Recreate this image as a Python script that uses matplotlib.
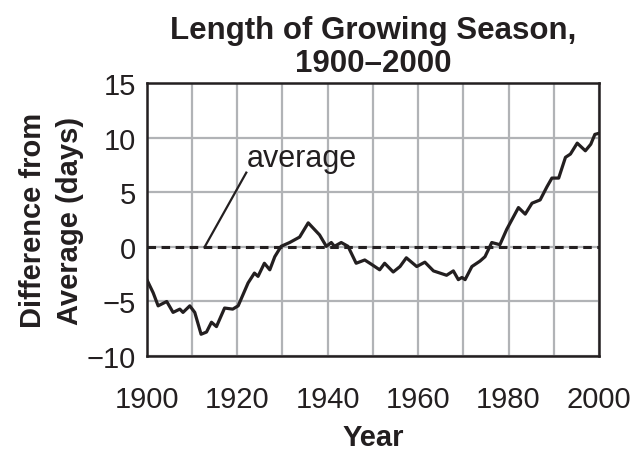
import numpy as np
import matplotlib
matplotlib.use('Agg')
import matplotlib.pyplot as plt

plt.rcParams['font.family'] = ['Liberation Sans', 'DejaVu Sans']

ink = '#231f20'

# growing season length, difference from average (days)
years = [1900, 1901.4, 1902.5, 1904.4, 1905.8, 1907.3, 1908, 1909.5, 1910.6,
         1912, 1913.2, 1914.3, 1915.4, 1917.2, 1919, 1920.2, 1922.4, 1923.8,
         1924.6, 1926, 1927.2, 1928.3, 1929.7, 1931.6, 1933.8, 1935.7, 1938.2,
         1939.7, 1940.8, 1941.5, 1943, 1944.5, 1946.3, 1948.2, 1949.7, 1951.5,
         1952.6, 1954.5, 1956, 1957.4, 1959.7, 1961.5, 1963.4, 1966.3, 1967.8,
         1968.9, 1969.7, 1970.4, 1971.9, 1973.7, 1974.8, 1976.3, 1978.1,
         1979.6, 1982.2, 1983.7, 1985.2, 1987, 1988.5, 1989.6, 1991.1, 1992.6,
         1993.7, 1995.2, 1997, 1998.2, 1999.1, 2000]
diff = [-3.0, -4.2, -5.4, -5.0, -6.0, -5.7, -6.0, -5.4, -6.0,
        -8.0, -7.8, -6.9, -7.3, -5.6, -5.7, -5.4, -3.3, -2.4,
        -2.7, -1.5, -2.1, -0.9, 0.05, 0.4, 0.9, 2.2, 1.1,
        0.05, 0.4, 0.05, 0.4, 0.05, -1.5, -1.2, -1.6, -2.1,
        -1.5, -2.3, -1.8, -1.0, -1.8, -1.4, -2.2, -2.6, -2.2,
        -3.0, -2.8, -3.0, -1.8, -1.3, -0.9, 0.4, 0.2,
        1.6, 3.6, 3.0, 4.0, 4.3, 5.5, 6.3, 6.3, 8.2,
        8.5, 9.5, 8.8, 9.4, 10.3, 10.4]

xticks = [1900, 1920, 1940, 1960, 1980, 2000]
yticks = [-10, -5, 0, 5, 10, 15]

fig = plt.figure(figsize=(6.44, 4.52), dpi=100)
ax = fig.add_axes([0.228, 0.21, 0.702, 0.604])

ax.set_xlim(1900, 2000)
ax.set_ylim(-10, 15)
ax.set_xticks(np.arange(1900, 2001, 10), minor=True)
ax.set_xticks(xticks)
ax.set_yticks(yticks)
ax.grid(True, which='both', color='#b1b3b6', lw=1.6)
ax.set_axisbelow(True)
ax.tick_params(which='both', length=0, labelsize=21, colors=ink)
ax.tick_params(axis='x', pad=21)
ax.tick_params(axis='y', pad=8)

ax.axhline(0, color=ink, lw=2.2, ls=(0, (2.8, 1.8)))
ax.plot(years, diff, color=ink, lw=2.3, solid_joinstyle='round')

# average label with pointer
ax.plot([1912.8, 1922], [0, 6.8], color=ink, lw=1.6)
ax.text(1922, 7.45, 'average', fontsize=22, color=ink, ha='left', va='baseline')

for s in ax.spines.values():
    s.set_color(ink)
    s.set_linewidth(1.8)

ax.set_title('Length of Growing Season,\n1900\u20132000', fontsize=22.5,
             fontweight='bold', color=ink, linespacing=1.12, pad=9)
ax.set_xlabel('Year', fontsize=21, fontweight='bold', color=ink, labelpad=7)
ax.set_ylabel('Difference from\nAverage (days)', fontsize=21, fontweight='bold',
              color=ink, linespacing=1.4, labelpad=2)

plt.savefig('out.png', dpi=100)
